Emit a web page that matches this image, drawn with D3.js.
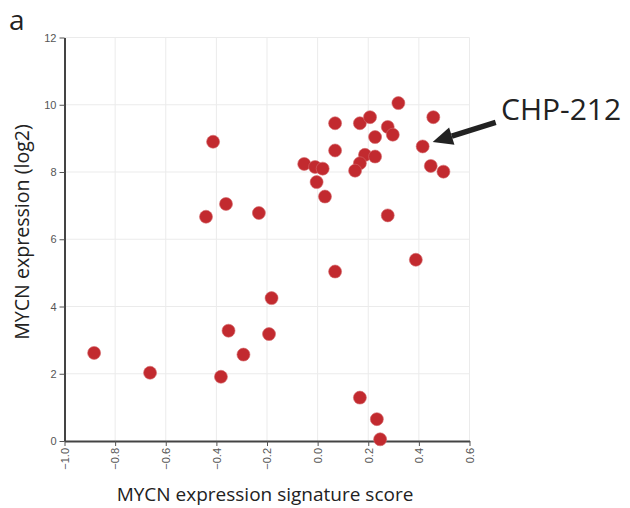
<!DOCTYPE html>
<html>
<head>
<meta charset="utf-8">
<script src="https://cdn.jsdelivr.net/npm/d3@7"></script>
<style>
  body { margin: 0; background: #fff; }
  svg { display: block; }
</style>
</head>
<body>
<div id="container"></div>
<script>
// signature score (x) and MYCN log2 expression (y) per cell line
let scores = [-0.883, -0.662, -0.382, -0.352, -0.293, -0.192, -0.182, -0.441, -0.362, -0.232, -0.413,
  0.319, 0.457, 0.069, 0.167, 0.207, 0.277, 0.297, 0.227, 0.069, 0.415, 0.187, 0.227, 0.167, 0.148,
  -0.053, -0.010, 0.020, -0.004, 0.029, 0.447, 0.497, 0.277, 0.388, 0.069, 0.167, 0.234, 0.247];
let expr = [2.62, 2.03, 1.91, 3.28, 2.57, 3.18, 4.25, 6.67, 7.05, 6.78, 8.90,
  10.05, 9.63, 9.45, 9.45, 9.63, 9.34, 9.11, 9.04, 8.64, 8.76, 8.51, 8.46, 8.26, 8.04,
  8.24, 8.15, 8.10, 7.70, 7.27, 8.18, 8.01, 6.71, 5.39, 5.04, 1.29, 0.65, 0.05];
let xTicks = [-1.0, -0.8, -0.6, -0.4, -0.2, 0.0, 0.2, 0.4, 0.6];
let yTicks = [0, 2, 4, 6, 8, 10, 12];
let highlight = 20; // index of CHP-212
let highlightName = "CHP-212";

let points = scores.map(function(s, i){ return {x: s, y: expr[i]}; });

let viz = d3.select("#container")
  .append("svg")
    .attr("width", 630)
    .attr("height", 508)
  ;

let plotL = 64.5, plotR = 469.5, plotT = 37.5, plotB = 441;

let x = d3.scaleLinear().domain([-1, 0.6]).range([plotL, plotR]);
let y = d3.scaleLinear().domain([0, 12]).range([plotB, plotT]);

// grid
viz.append("g").selectAll("line").data(xTicks.slice(1)).enter()
  .append("line")
    .attr("x1", d => x(d)).attr("x2", d => x(d))
    .attr("y1", plotT).attr("y2", plotB)
    .attr("stroke", "#ebebeb").attr("stroke-width", 1);
viz.append("g").selectAll("line").data(yTicks.slice(1)).enter()
  .append("line")
    .attr("x1", plotL).attr("x2", plotR)
    .attr("y1", d => y(d)).attr("y2", d => y(d))
    .attr("stroke", "#ebebeb").attr("stroke-width", 1);

// axes
let xAxis = viz.append("g")
  .attr("transform", "translate(0," + plotB + ")")
  .call(d3.axisBottom(x).tickValues(xTicks).tickFormat(d3.format(".1f")).tickSizeInner(5).tickSizeOuter(0));
xAxis.selectAll("text")
  .attr("transform", "rotate(-90)")
  .attr("text-anchor", "end")
  .attr("x", -7)
  .attr("y", 0)
  .attr("dy", "0.35em");

let yAxis = viz.append("g")
  .attr("transform", "translate(" + plotL + ",0)")
  .call(d3.axisLeft(y).tickValues(yTicks).tickSizeInner(5).tickSizeOuter(0));

[xAxis, yAxis].forEach(function(a){
  a.select(".domain").attr("stroke", "#444").attr("stroke-width", 2);
  a.selectAll(".tick line").attr("stroke", "#555");
  a.selectAll("text")
    .style("font-family", "Liberation Sans, Arial, sans-serif")
    .style("font-size", "11px")
    .attr("fill", "#555");
});

// points
viz.append("g").selectAll("circle").data(points).enter()
  .append("circle")
    .attr("cx", d => x(d.x))
    .attr("cy", d => y(d.y))
    .attr("r", 6.5)
    .attr("fill", "#c22a2f")
    .attr("stroke", "#d46a6d")
    .attr("stroke-width", 0.6);

// axis titles
viz.append("text")
  .attr("x", 265)
  .attr("y", 501)
  .attr("text-anchor", "middle")
  .style("font-family", "Open Sans")
  .style("font-size", "19px")
  .attr("fill", "#222")
  .text("MYCN expression signature score");

viz.append("text")
  .attr("transform", "translate(29,232) rotate(-90)")
  .attr("text-anchor", "middle")
  .style("font-family", "Open Sans")
  .style("font-size", "19.6px")
  .attr("fill", "#222")
  .text("MYCN expression (log2)");

// panel letter
viz.append("text")
  .attr("x", 9)
  .attr("y", 30)
  .style("font-family", "Open Sans")
  .style("font-size", "28px")
  .attr("fill", "#222")
  .text("a");

// annotation for CHP-212
let hp = points[highlight];
let px = x(hp.x), py = y(hp.y);
let tipX = px + 10, tipY = py - 4.5;
let tailX = px + 73, tailY = py - 24;
let ang = Math.atan2(tailY - tipY, tailX - tipX);
let headLen = 20, headW = 9;
let bx = tipX + headLen * Math.cos(ang), by = tipY + headLen * Math.sin(ang);
viz.append("line")
  .attr("x1", bx).attr("y1", by)
  .attr("x2", tailX).attr("y2", tailY)
  .attr("stroke", "#222").attr("stroke-width", 5.5);
viz.append("path")
  .attr("d", "M" + tipX + "," + tipY +
    "L" + (bx - headW * Math.sin(ang)) + "," + (by + headW * Math.cos(ang)) +
    "L" + (bx + headW * Math.sin(ang)) + "," + (by - headW * Math.cos(ang)) + "Z")
  .attr("fill", "#222");
viz.append("text")
  .attr("x", 501)
  .attr("y", 120)
  .style("font-family", "Open Sans")
  .style("font-size", "30px")
  .attr("fill", "#222")
  .text(highlightName);
</script>
</body>
</html>
